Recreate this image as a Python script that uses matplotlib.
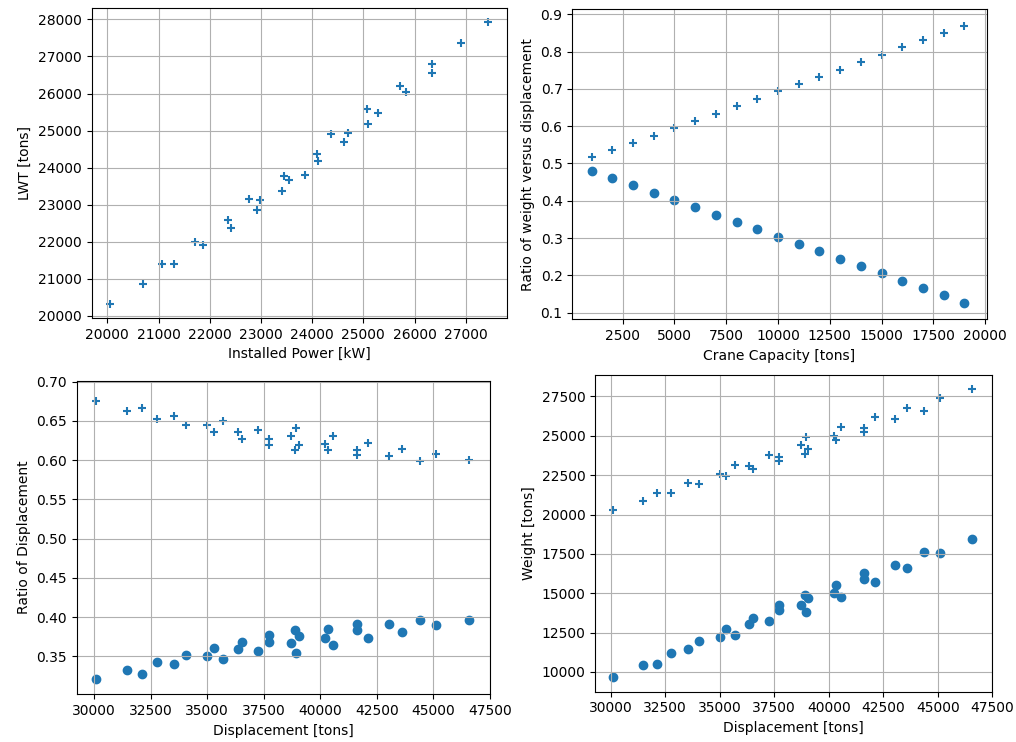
import matplotlib
matplotlib.use("Agg")
import matplotlib.pyplot as plt

# ---- Top-left: installed power vs LWT ----
installed_power = [20059, 20687, 21060, 21295, 21721, 21877, 22349, 22421, 22774, 22977,
                   22931, 23408, 23441, 23552, 23866, 24089, 24115, 24370, 24625, 24697,
                   25070, 25096, 25279, 25711, 25842, 26333, 26333, 26902, 27438]
lwt_power = [20325, 20867, 21400, 21400, 21995, 21905, 22582, 22384, 23160, 23133,
             22871, 23359, 23765, 23666, 23810, 24361, 24171, 24912, 24695, 24948,
             25571, 25174, 25481, 26194, 26049, 26799, 26555, 27359, 27928]

# ---- Top-right: crane capacity vs weight ratios ----
crane_capacity = [1000, 2000, 3000, 4000, 5000, 6000, 7000, 8000, 9000, 10000,
                  11000, 12000, 13000, 14000, 15000, 16000, 17000, 18000, 19000]
ratio_cross = [0.5165, 0.5353, 0.5550, 0.5746, 0.5952, 0.6148, 0.6336, 0.6533, 0.6730, 0.6935,
               0.7123, 0.7320, 0.7516, 0.7713, 0.7918, 0.8115, 0.8303, 0.8499, 0.8696]
ratio_circle = [0.4808, 0.4613, 0.4415, 0.4218, 0.4021, 0.3825, 0.3628, 0.3431, 0.3235, 0.3038,
                0.2841, 0.2645, 0.2448, 0.2251, 0.2055, 0.1858, 0.1661, 0.1465, 0.1268]

# ---- Bottom panels: displacement ----
displacement = [30090, 31460, 32130, 32775, 33540, 34045, 35000, 35295, 35680, 36350,
                36520, 37245, 37725, 37725, 38725, 38900, 38940, 39040, 40225, 40340,
                40545, 41608, 41608, 42098, 43022, 43610, 44390, 45100, 46568]
lwt = [20308, 20842, 21397, 21397, 22016, 21930, 22549, 22421, 23168, 23104,
       22891, 23766, 23659, 23381, 24406, 23851, 24939, 24192, 24982, 24726,
       25558, 25515, 25238, 26177, 26049, 26796, 26582, 27415, 27948]
other_weight = [9660, 10471, 10535, 11217, 11431, 11964, 12242, 12733, 12370, 13053,
                13458, 13266, 13906, 14248, 14227, 14909, 13800, 14696, 15016, 15506,
                14760, 15934, 16297, 15720, 16808, 16595, 17620, 17556, 18431]
disp_ratio_cross = [0.6749, 0.6625, 0.6660, 0.6529, 0.6564, 0.6441, 0.6443, 0.6353, 0.6493, 0.6356,
                    0.6268, 0.6381, 0.6272, 0.6198, 0.6302, 0.6131, 0.6404, 0.6197, 0.6211, 0.6129,
                    0.6304, 0.6132, 0.6066, 0.6218, 0.6055, 0.6144, 0.5988, 0.6079, 0.6002]
disp_ratio_circle = [0.3210, 0.3328, 0.3279, 0.3422, 0.3408, 0.3514, 0.3498, 0.3608, 0.3467, 0.3591,
                     0.3685, 0.3562, 0.3686, 0.3777, 0.3674, 0.3833, 0.3544, 0.3764, 0.3733, 0.3844,
                     0.3640, 0.3830, 0.3917, 0.3734, 0.3907, 0.3805, 0.3969, 0.3893, 0.3958]

W, H = 1016, 742
fig = plt.figure(figsize=(W / 100, H / 100), dpi=100)


def px_axes(left, top, right, bottom):
    return fig.add_axes([left / W, (H - bottom) / H, (right - left) / W, (bottom - top) / H])


c = "#1f77b4"

ax1 = px_axes(91.5, 8, 507, 318)
ax1.scatter(installed_power, lwt_power, marker="+", color=c)
ax1.set_xlabel("Installed Power [kW]")
ax1.set_ylabel("LWT [tons]")
ax1.grid(True)

ax2 = px_axes(572.3, 9.3, 986.7, 319.3)
ax2.scatter(crane_capacity, ratio_cross, marker="+", color=c)
ax2.scatter(crane_capacity, ratio_circle, marker="o", color=c)
ax2.set_xlim(65, 20080)
ax2.set_ylim(0.0823, 0.9134)
ax2.set_xlabel("Crane Capacity [tons]")
ax2.set_ylabel("Ratio of weight versus displacement")
ax2.grid(True)

ax3 = px_axes(76.7, 381, 490, 694.3)
ax3.scatter(displacement, disp_ratio_cross, marker="+", color=c)
ax3.scatter(displacement, disp_ratio_circle, marker="o", color=c)
ax3.set_xlim(29235, 47500)
ax3.set_ylim(0.3016, 0.7008)
ax3.set_xlabel("Displacement [tons]")
ax3.set_ylabel("Ratio of Displacement")
ax3.grid(True)

ax4 = px_axes(595, 375, 992.3, 691.7)
ax4.scatter(displacement, lwt, marker="+", color=c)
ax4.scatter(displacement, other_weight, marker="o", color=c)
ax4.set_xlim(29280, 47500)
ax4.set_xlabel("Displacement [tons]")
ax4.set_ylabel("Weight [tons]")
ax4.grid(True)

fig.savefig("out.png", dpi=100)
